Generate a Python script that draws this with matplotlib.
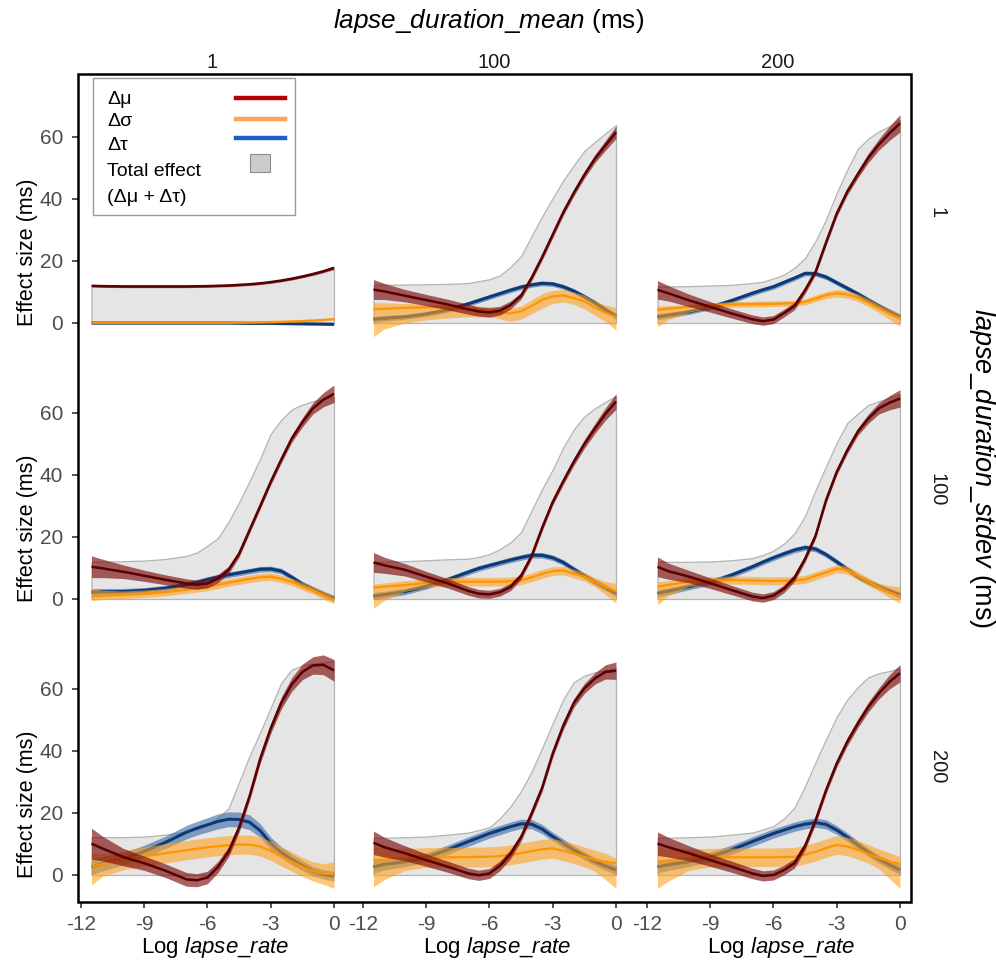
import numpy as np
import matplotlib
matplotlib.use('Agg')
import matplotlib.pyplot as plt
from matplotlib.patches import Rectangle
from matplotlib.lines import Line2D

plt.rcParams['font.family'] = ['Liberation Sans', 'DejaVu Sans']
plt.rcParams['mathtext.fontset'] = 'custom'
plt.rcParams['mathtext.rm'] = 'Liberation Sans'
plt.rcParams['mathtext.it'] = 'Liberation Sans:italic'
plt.rcParams['axes.unicode_minus'] = False

#------------------------------------------------------------------------------#
# Data                                                     #
#------------------------------------------------------------------------------#
log_rate = [-11.5, -11, -10, -9, -8, -7, -6.5, -6, -5.5, -5,
            -4.5, -4, -3.5, -3, -2.5, -2, -1.5, -1, -0.5, 0]
mean_levels = ['1', '100', '200']    # columns: lapse_duration_mean
stdev_levels = ['1', '100', '200']   # rows: lapse_duration_stdev
x_ticks = [-12, -9, -6, -3, 0]
y_ticks = [0, 20, 40, 60]

# stdev = 1, mean = 1
mu_11 = [12.0, 11.9, 11.8, 11.8, 11.8, 11.8, 11.85, 11.9, 12.0, 12.1, 12.3, 12.5, 12.8, 13.2, 13.7, 14.3, 15.0, 15.8, 16.7, 17.8]
muw_11 = [0.4, 0.4, 0.4, 0.4, 0.4, 0.4, 0.4, 0.4, 0.4, 0.4, 0.4, 0.4, 0.4, 0.4, 0.4, 0.4, 0.4, 0.4, 0.4, 0.5]
sig_11 = [0.1, 0.1, 0.1, 0.1, 0.1, 0.1, 0.1, 0.1, 0.1, 0.1, 0.15, 0.2, 0.25, 0.3, 0.4, 0.5, 0.65, 0.8, 1.0, 1.3]
siglo_11 = [-0.2, -0.2, -0.2, -0.2, -0.2, -0.2, -0.2, -0.2, -0.2, -0.2, -0.15, -0.1, -0.05, 0.0, 0.1, 0.2, 0.35, 0.5, 0.7, 1.0]
sighi_11 = [0.4, 0.4, 0.4, 0.4, 0.4, 0.4, 0.4, 0.4, 0.4, 0.4, 0.45, 0.5, 0.55, 0.6, 0.7, 0.8, 0.95, 1.1, 1.3, 1.6]
tau_11 = [0.0, 0.0, 0.0, 0.0, 0.0, 0.0, 0.0, 0.0, 0.0, 0.0, -0.05, -0.1, -0.1, -0.1, -0.15, -0.2, -0.25, -0.3, -0.35, -0.4]
tauw_11 = [0.4, 0.4, 0.4, 0.4, 0.4, 0.4, 0.4, 0.4, 0.4, 0.4, 0.4, 0.4, 0.4, 0.4, 0.4, 0.4, 0.4, 0.4, 0.4, 0.4]
tot_11 = [12.0, 11.9, 11.8, 11.8, 11.8, 11.8, 11.85, 11.9, 12.0, 12.1, 12.25, 12.4, 12.7, 13.1, 13.6, 14.1, 14.8, 15.5, 16.4, 17.4]

# stdev = 1, mean = 100
mu_12 = [10.8, 10.2, 8.8, 7.4, 6.0, 4.4, 3.7, 3.4, 4.0, 5.8, 8.8, 14.6, 21.3, 28.5, 35.7, 42.0, 47.8, 53.0, 57.3, 61.5]
muw_12 = [3.2, 2.6, 2.0, 1.8, 1.7, 1.6, 1.5, 1.5, 1.4, 1.3, 1.1, 1.0, 1.0, 1.0, 1.0, 1.0, 1.1, 1.3, 1.6, 2.0]
sig_12 = [4.4, 4.6, 4.9, 5.1, 5.0, 4.5, 4.1, 3.7, 3.3, 3.1, 3.8, 5.5, 7.5, 8.6, 8.9, 8.0, 7.0, 5.0, 3.3, 2.0]
siglo_12 = [-4.4, -2.0, 0.0, 1.0, 1.6, 2.0, 2.0, 2.0, 1.3, 0.5, 1.2, 3.0, 4.8, 6.3, 6.8, 6.0, 4.5, 2.5, 0.5, -2.3]
sighi_12 = [6.6, 6.5, 6.3, 6.0, 5.8, 5.5, 5.4, 5.3, 5.0, 4.8, 5.5, 7.5, 9.5, 10.5, 10.8, 10.0, 9.0, 7.0, 5.8, 5.0]
tau_12 = [1.2, 1.5, 2.0, 2.9, 4.2, 6.2, 7.3, 8.4, 9.5, 10.6, 11.6, 12.3, 12.8, 12.6, 11.7, 10.3, 8.5, 6.5, 4.3, 2.2]
tauw_12 = [1.0, 0.9, 0.8, 0.8, 0.8, 0.8, 0.8, 0.8, 0.8, 0.8, 0.8, 0.8, 0.8, 0.8, 0.8, 0.8, 0.8, 0.8, 0.9, 1.0]
tot_12 = [12.3, 12.3, 12.4, 12.5, 12.6, 12.9, 13.5, 14.1, 15.4, 18.1, 21.6, 28.1, 34.4, 40.3, 46.0, 50.9, 55.5, 58.4, 61.2, 63.9]

# stdev = 1, mean = 200
mu_13 = [10.7, 9.6, 7.3, 5.2, 3.1, 1.2, 0.6, 1.1, 3.2, 5.5, 10.6, 16.6, 26.1, 35.3, 42.4, 48.0, 53.3, 57.6, 61.2, 64.4]
muw_13 = [3.0, 2.5, 2.0, 1.7, 1.5, 1.4, 1.35, 1.3, 1.25, 1.2, 1.1, 1.0, 1.0, 1.0, 1.1, 1.2, 1.5, 1.8, 2.3, 2.8]
sig_13 = [4.2, 4.6, 5.2, 5.7, 6.0, 6.1, 6.15, 6.2, 6.3, 6.4, 6.8, 7.9, 9.0, 9.6, 9.2, 8.2, 6.5, 4.8, 3.0, 1.5]
siglo_13 = [-1.2, 1.0, 3.5, 4.8, 5.1, 5.2, 5.2, 5.3, 5.4, 5.5, 5.8, 6.9, 7.9, 8.4, 8.0, 7.0, 5.2, 3.4, 1.2, -1.2]
sighi_13 = [5.5, 5.6, 6.0, 6.5, 6.9, 7.0, 7.1, 7.1, 7.2, 7.3, 7.8, 9.0, 10.1, 10.8, 10.4, 9.4, 7.8, 6.0, 4.5, 3.0]
tau_13 = [2.0, 2.5, 3.6, 5.1, 7.2, 9.6, 10.7, 11.7, 13.1, 14.5, 16.0, 15.9, 14.8, 13.0, 11.2, 9.4, 7.4, 5.5, 3.7, 2.0]
tauw_13 = [1.0, 0.9, 0.8, 0.8, 0.8, 0.8, 0.8, 0.8, 0.8, 0.8, 0.8, 0.8, 0.8, 0.8, 0.8, 0.8, 0.8, 0.8, 0.9, 1.0]
tot_13 = [11.8, 11.8, 11.9, 12.1, 12.3, 12.9, 13.3, 14.4, 15.6, 17.8, 21.0, 26.5, 33.5, 42.0, 49.5, 56.2, 59.5, 61.8, 63.5, 65.5]

# stdev = 100, mean = 1
mu_21 = [10.4, 9.9, 8.8, 7.5, 6.2, 5.0, 4.6, 5.0, 6.6, 9.4, 14.6, 22.3, 30.0, 37.8, 45.0, 51.8, 57.0, 61.5, 64.3, 66.2]
muw_21 = [3.5, 3.0, 2.2, 1.8, 1.6, 1.5, 1.45, 1.4, 1.3, 1.2, 1.1, 1.0, 1.0, 1.0, 1.1, 1.2, 1.5, 1.8, 2.3, 2.8]
sig_21 = [0.8, 1.0, 1.3, 1.65, 2.2, 3.0, 3.4, 3.9, 4.6, 5.3, 5.9, 6.5, 7.0, 7.2, 6.5, 5.5, 4.1, 2.8, 1.2, -0.3]
siglo_21 = [-0.5, -0.2, 0.1, 0.5, 1.0, 1.8, 2.2, 2.7, 3.4, 4.1, 4.7, 5.3, 5.8, 6.0, 5.3, 4.3, 2.9, 1.6, -0.1, -1.5]
sighi_21 = [3.5, 2.8, 2.6, 2.9, 3.4, 4.2, 4.6, 5.1, 5.8, 6.5, 7.1, 7.7, 8.2, 8.4, 7.7, 6.7, 5.3, 4.0, 2.6, 1.0]
tau_21 = [2.2, 2.3, 2.4, 2.8, 3.5, 4.6, 5.4, 6.3, 7.1, 7.8, 8.4, 9.0, 9.6, 9.7, 9.0, 7.0, 4.8, 3.2, 1.6, 0.2]
tauw_21 = [1.2, 1.1, 1.0, 0.9, 0.9, 0.9, 0.9, 0.9, 0.9, 0.9, 0.9, 0.9, 0.9, 0.9, 0.9, 0.9, 0.9, 0.9, 0.95, 1.0]
tot_21 = [12.0, 12.0, 12.2, 12.4, 12.9, 13.9, 15.0, 17.2, 19.7, 24.9, 31.2, 38.1, 45.3, 53.3, 57.8, 61.2, 62.7, 63.8, 64.6, 65.3]

# stdev = 100, mean = 100
mu_22 = [11.8, 10.9, 9.4, 7.2, 5.1, 2.6, 1.7, 1.5, 2.2, 3.9, 7.5, 13.9, 23.0, 31.3, 38.0, 44.3, 50.0, 55.0, 59.7, 63.7]
muw_22 = [3.2, 2.6, 2.0, 1.7, 1.5, 1.4, 1.35, 1.3, 1.25, 1.2, 1.1, 1.0, 1.0, 1.0, 1.1, 1.2, 1.4, 1.6, 2.0, 2.5]
sig_22 = [3.6, 4.0, 4.5, 5.2, 5.5, 5.6, 5.6, 5.6, 5.6, 5.7, 6.0, 7.0, 8.1, 9.0, 9.2, 8.2, 7.2, 5.5, 3.9, 2.4]
siglo_22 = [-3.0, -0.5, 2.5, 3.8, 4.1, 4.2, 4.2, 4.2, 4.2, 4.3, 4.6, 5.6, 6.7, 7.6, 7.8, 6.8, 5.8, 4.0, 1.5, -1.4]
sighi_22 = [4.8, 5.2, 5.9, 6.5, 6.9, 7.0, 7.0, 7.0, 7.0, 7.1, 7.4, 8.4, 9.5, 10.4, 10.6, 9.6, 8.6, 6.9, 5.6, 5.0]
tau_22 = [0.9, 1.4, 2.4, 4.1, 6.2, 8.7, 9.9, 10.8, 11.7, 12.6, 13.4, 14.1, 14.1, 13.3, 11.8, 9.6, 7.5, 5.5, 3.7, 1.8]
tauw_22 = [1.2, 1.1, 1.0, 0.9, 0.9, 0.9, 0.9, 0.9, 0.9, 0.9, 0.9, 0.9, 0.9, 0.9, 0.9, 0.9, 0.9, 0.9, 0.95, 1.0]
tot_22 = [12.0, 12.0, 12.2, 12.5, 12.8, 13.0, 13.6, 14.5, 16.1, 18.3, 21.6, 28.6, 35.5, 41.8, 48.9, 54.7, 58.9, 61.5, 63.6, 65.5]

# stdev = 100, mean = 200
mu_23 = [10.4, 9.0, 7.2, 5.1, 2.9, 0.8, 0.3, 1.1, 3.3, 6.9, 13.0, 20.5, 32.0, 41.0, 48.0, 54.0, 58.2, 61.5, 63.3, 64.7]
muw_23 = [3.2, 2.6, 2.0, 1.7, 1.5, 1.4, 1.35, 1.3, 1.25, 1.2, 1.1, 1.0, 1.0, 1.0, 1.1, 1.2, 1.5, 1.8, 2.3, 2.8]
sig_23 = [4.0, 4.5, 5.6, 5.9, 6.1, 6.0, 5.9, 5.8, 5.9, 6.0, 6.3, 7.5, 8.6, 9.8, 9.3, 7.5, 5.6, 3.8, 2.2, 0.8]
siglo_23 = [-1.9, 1.0, 4.1, 4.6, 4.8, 4.7, 4.6, 4.5, 4.6, 4.7, 5.0, 6.2, 7.3, 8.5, 8.0, 6.2, 4.3, 2.5, 0.5, -1.4]
sighi_23 = [5.6, 5.9, 6.9, 7.2, 7.4, 7.3, 7.2, 7.1, 7.2, 7.3, 7.6, 8.8, 9.9, 11.1, 10.6, 8.8, 6.9, 5.1, 4.3, 4.0]
tau_23 = [1.8, 2.5, 4.0, 5.4, 7.7, 10.4, 11.9, 13.3, 14.6, 15.8, 16.6, 16.1, 14.3, 12.0, 9.6, 7.2, 5.5, 4.0, 2.6, 1.3]
tauw_23 = [1.2, 1.1, 1.0, 0.9, 0.9, 0.9, 0.9, 0.9, 0.9, 0.9, 0.9, 0.9, 0.9, 0.9, 0.9, 0.9, 0.9, 0.9, 0.95, 1.0]
tot_23 = [12.0, 12.0, 12.0, 12.1, 12.5, 13.2, 14.2, 15.6, 17.9, 21.2, 26.8, 35.2, 42.9, 50.4, 56.8, 59.8, 62.6, 63.8, 64.9, 66.0]

# stdev = 200, mean = 1
mu_31 = [10.1, 8.6, 5.8, 3.8, 1.4, -1.4, -1.7, -0.8, 2.6, 7.5, 15.3, 25.5, 37.5, 47.3, 55.5, 61.5, 65.5, 67.6, 67.8, 66.0]
muw_31 = [5.0, 4.0, 2.8, 2.3, 2.2, 2.2, 2.1, 2.0, 1.8, 1.6, 1.5, 1.4, 1.5, 1.6, 1.9, 2.2, 2.5, 2.8, 3.2, 3.5]
sig_31 = [2.7, 3.5, 4.8, 6.0, 7.0, 8.0, 8.5, 8.9, 9.3, 9.6, 9.8, 9.8, 9.2, 7.8, 6.0, 4.3, 2.6, 1.2, 0.4, 0.3]
siglo_31 = [-3.2, -0.5, 1.7, 2.9, 3.9, 4.9, 5.4, 5.8, 6.2, 6.5, 6.7, 6.7, 6.1, 4.7, 2.9, 1.2, -0.5, -1.9, -3.0, -4.3]
sighi_31 = [7.0, 6.8, 7.8, 9.1, 10.1, 11.1, 11.6, 12.0, 12.4, 12.7, 12.9, 12.9, 12.3, 10.9, 9.1, 7.4, 5.7, 4.3, 3.6, 4.3]
tau_31 = [2.6, 3.6, 5.2, 7.6, 10.5, 13.8, 15.1, 16.2, 17.3, 18.0, 17.9, 17.0, 14.3, 10.2, 7.3, 5.0, 3.0, 1.2, 0.2, -0.4]
tauw_31 = [2.5, 2.3, 2.0, 2.0, 2.0, 2.2, 2.2, 2.3, 2.4, 2.4, 2.4, 2.4, 2.2, 2.0, 1.8, 1.7, 1.6, 1.5, 1.5, 1.6]
tot_31 = [12.2, 12.2, 12.2, 12.4, 13.0, 14.0, 14.8, 16.0, 18.5, 21.5, 30.0, 38.5, 46.0, 54.0, 62.0, 66.3, 67.6, 68.2, 68.6, 69.0]

# stdev = 200, mean = 100
mu_32 = [10.4, 9.0, 7.0, 4.8, 2.7, 0.5, -0.1, 0.5, 3.0, 6.8, 12.2, 19.9, 28.2, 39.2, 48.2, 55.5, 60.2, 63.4, 65.5, 65.9]
muw_32 = [3.8, 3.2, 2.4, 2.0, 1.8, 1.7, 1.65, 1.6, 1.55, 1.5, 1.3, 1.2, 1.2, 1.2, 1.3, 1.4, 1.6, 1.8, 2.3, 2.8]
sig_32 = [4.8, 5.0, 5.4, 5.6, 5.7, 5.8, 5.85, 5.9, 6.1, 6.5, 7.1, 7.7, 8.3, 8.6, 7.8, 6.9, 5.9, 4.8, 4.3, 3.8]
siglo_32 = [-3.8, -1.5, 1.5, 2.5, 2.5, 2.6, 2.6, 2.7, 2.9, 3.3, 3.9, 4.5, 5.1, 5.4, 4.6, 3.7, 2.6, 1.2, -1.5, -4.3]
sighi_32 = [9.1, 8.7, 8.6, 8.8, 8.9, 9.0, 9.0, 9.1, 9.3, 9.7, 10.3, 10.9, 11.5, 11.8, 11.0, 10.1, 9.0, 8.0, 7.0, 5.4]
tau_32 = [2.6, 3.4, 4.3, 5.7, 8.1, 10.8, 12.1, 13.4, 14.5, 15.6, 16.5, 16.4, 14.8, 12.4, 10.2, 8.1, 6.2, 4.3, 2.9, 1.6]
tauw_32 = [2.0, 1.8, 1.6, 1.5, 1.5, 1.5, 1.5, 1.5, 1.5, 1.5, 1.5, 1.5, 1.5, 1.4, 1.4, 1.3, 1.3, 1.3, 1.4, 1.5]
tot_32 = [12.0, 12.0, 12.2, 12.4, 13.0, 13.7, 14.5, 15.4, 18.3, 22.2, 27.1, 33.4, 41.0, 48.9, 56.7, 62.2, 64.3, 65.4, 66.1, 66.7]

# stdev = 200, mean = 200
mu_33 = [10.1, 9.0, 7.0, 4.8, 2.7, 0.5, -0.3, 0.0, 1.6, 3.8, 9.4, 17.7, 27.5, 36.0, 43.0, 48.9, 54.2, 58.6, 62.3, 65.1]
muw_33 = [3.8, 3.2, 2.4, 2.0, 1.8, 1.7, 1.65, 1.6, 1.55, 1.5, 1.3, 1.2, 1.2, 1.2, 1.3, 1.4, 1.6, 1.8, 2.3, 2.8]
sig_33 = [4.3, 4.7, 5.4, 5.6, 5.7, 5.7, 5.7, 5.7, 5.8, 5.9, 6.6, 7.5, 8.7, 9.7, 9.2, 8.1, 6.8, 5.4, 4.4, 3.5]
siglo_33 = [-4.3, -2.0, 1.5, 2.6, 2.7, 2.7, 2.7, 2.7, 2.8, 2.9, 3.6, 4.5, 5.7, 6.7, 6.2, 5.1, 3.8, 2.0, -1.2, -4.3]
sighi_33 = [9.1, 8.6, 8.4, 8.6, 8.7, 8.7, 8.7, 8.7, 8.8, 8.9, 9.6, 10.5, 11.7, 12.7, 12.2, 11.1, 9.8, 8.4, 7.2, 5.9]
tau_33 = [2.6, 3.3, 4.3, 5.9, 8.1, 10.8, 12.1, 13.4, 14.5, 15.6, 16.4, 16.9, 16.3, 14.5, 12.2, 9.7, 7.3, 5.1, 3.3, 1.6]
tauw_33 = [2.0, 1.8, 1.6, 1.5, 1.5, 1.5, 1.5, 1.5, 1.5, 1.5, 1.5, 1.5, 1.5, 1.4, 1.4, 1.3, 1.3, 1.3, 1.4, 1.5]
tot_33 = [12.0, 12.0, 12.2, 12.4, 13.0, 13.7, 14.7, 15.8, 18.2, 21.8, 28.7, 36.4, 43.9, 51.0, 56.6, 60.6, 63.8, 65.1, 65.8, 66.7]

panels = {
    (0, 0): (mu_11, muw_11, sig_11, siglo_11, sighi_11, tau_11, tauw_11, tot_11),
    (0, 1): (mu_12, muw_12, sig_12, siglo_12, sighi_12, tau_12, tauw_12, tot_12),
    (0, 2): (mu_13, muw_13, sig_13, siglo_13, sighi_13, tau_13, tauw_13, tot_13),
    (1, 0): (mu_21, muw_21, sig_21, siglo_21, sighi_21, tau_21, tauw_21, tot_21),
    (1, 1): (mu_22, muw_22, sig_22, siglo_22, sighi_22, tau_22, tauw_22, tot_22),
    (1, 2): (mu_23, muw_23, sig_23, siglo_23, sighi_23, tau_23, tauw_23, tot_23),
    (2, 0): (mu_31, muw_31, sig_31, siglo_31, sighi_31, tau_31, tauw_31, tot_31),
    (2, 1): (mu_32, muw_32, sig_32, siglo_32, sighi_32, tau_32, tauw_32, tot_32),
    (2, 2): (mu_33, muw_33, sig_33, siglo_33, sighi_33, tau_33, tauw_33, tot_33),
}

#------------------------------------------------------------------------------#
# Layout (figure pixels)                                                       #
#------------------------------------------------------------------------------#
W, H = 996, 960
fig = plt.figure(figsize=(W / 100, H / 100), dpi=100)

def fx(x):
    return x / W

def fy(y):
    return 1 - y / H

col_left = [77.8, 359.8, 643.8]
col_w = 268.2
row_zero = [323, 599, 875]
px_per_unit = 3.1
ylo, yhi = -8.7, 74
xlo, xhi = -12.15, 0.57

# colours
MU_LINE, MU_BAND = '#5a0000', '#7c0c0c'
SIG_LINE, SIG_BAND = '#ff9400', '#ffa21f'
TAU_LINE, TAU_BAND = '#0b3a78', '#2a5a9e'

x = np.array(log_rate)
for (r, c), (mu, muw, sig, slo, shi, tau, tauw, tot) in panels.items():
    bottom_px = row_zero[r] - ylo * px_per_unit
    h_px = (yhi - ylo) * px_per_unit
    ax = fig.add_axes([fx(col_left[c]), fy(bottom_px), col_w / W, h_px / H])
    ax.patch.set_alpha(0)
    mu, muw, tau, tauw = map(np.array, (mu, muw, tau, tauw))

    ax.fill_between(x, 0, tot, facecolor='#e5e5e5', edgecolor='#b4b4b4', lw=0.9, zorder=1)
    ax.fill_between(x, tau - tauw, tau + tauw, color=TAU_BAND, alpha=0.55, lw=0, zorder=2)
    ax.plot(x, tau, color=TAU_LINE, lw=2.2, zorder=3, solid_capstyle='butt')
    ax.fill_between(x, slo, shi, color=SIG_BAND, alpha=0.6, lw=0, zorder=4)
    ax.plot(x, sig, color=SIG_LINE, lw=1.6, zorder=5, solid_capstyle='butt')
    ax.fill_between(x, mu - muw, mu + muw, color=MU_BAND, alpha=0.65, lw=0, zorder=6)
    ax.plot(x, mu, color=MU_LINE, lw=1.8, zorder=7, solid_capstyle='butt')

    ax.set_xlim(xlo, xhi)
    ax.set_ylim(ylo, yhi)
    for s in ax.spines.values():
        s.set_visible(False)
    ax.set_xticks(x_ticks)
    ax.set_xticklabels([str(t) for t in x_ticks])
    ax.set_yticks(y_ticks)
    ax.tick_params(length=4.5, width=1.1, color='#222222', labelcolor='#4d4d4d',
                   labelsize=15)
    ax.tick_params(axis='x', pad=5)
    ax.tick_params(axis='y', pad=6)
    if c != 0:
        ax.tick_params(axis='y', left=False, labelleft=False)
    if r != 2:
        ax.tick_params(axis='x', bottom=False, labelbottom=False)
    else:
        fig.text(fx(col_left[c] + col_w / 2 + 3), fy(947), r'Log $\mathit{lapse\_rate}$',
                 ha='center', va='center', fontsize=16)
    if c == 0:
        fig.text(fx(27), fy(row_zero[r] - 71), 'Effect size (ms)', rotation=90,
                 ha='center', va='center', fontsize=15.5)

# outer frame
fig.add_artist(Rectangle((fx(78), fy(902)), (911 - 78) / W, (902 - 74) / H,
                         transform=fig.transFigure, fill=False, lw=1.8, ec='black', zorder=10))

# facet strips
for c, lab in enumerate(mean_levels):
    fig.text(fx(col_left[c] + col_w / 2), fy(62), lab, ha='center', va='center',
             fontsize=14.5, color='#1a1a1a')
for lab, yc in zip(stdev_levels, [213, 490, 767]):
    fig.text(fx(937), fy(yc), lab, ha='center', va='center', rotation=270,
             fontsize=14.5, color='#1a1a1a')
fig.text(fx(489), fy(21), r'$\mathit{lapse\_duration\_mean}$ (ms)', ha='center',
         va='center', fontsize=18.8)
fig.text(fx(982), fy(468), r'$\mathit{lapse\_duration\_stdev}$ (ms)', ha='center',
         va='center', rotation=270, fontsize=19.5)

# legend box (drawn by hand: labels left, keys right)
fig.add_artist(Rectangle((fx(93), fy(215)), (295 - 93) / W, (215 - 78) / H,
                         transform=fig.transFigure, fc='white', ec='#9a9a9a', lw=1, zorder=11))
leg_labels = ['Δμ', 'Δσ', 'Δτ', 'Total effect', '(Δμ + Δτ)']
leg_y = [100, 122, 145, 172, 197]
for lab, yy in zip(leg_labels, leg_y):
    fig.text(fx(107), fy(yy), lab, ha='left', va='center', fontsize=14, zorder=12)
for col, yy in zip(['#b40000', '#ffa54f', '#1f5fbf'], [98, 119, 138]):
    fig.add_artist(Line2D([fx(236), fx(285)], [fy(yy), fy(yy)], transform=fig.transFigure,
                          color=col, lw=3.2, zorder=12))
fig.add_artist(Rectangle((fx(250), fy(172)), 20 / W, 18 / H, transform=fig.transFigure,
                         fc='#cccccc', ec='#8c8c8c', lw=0.8, zorder=12))

fig.savefig('out.png', dpi=100)
